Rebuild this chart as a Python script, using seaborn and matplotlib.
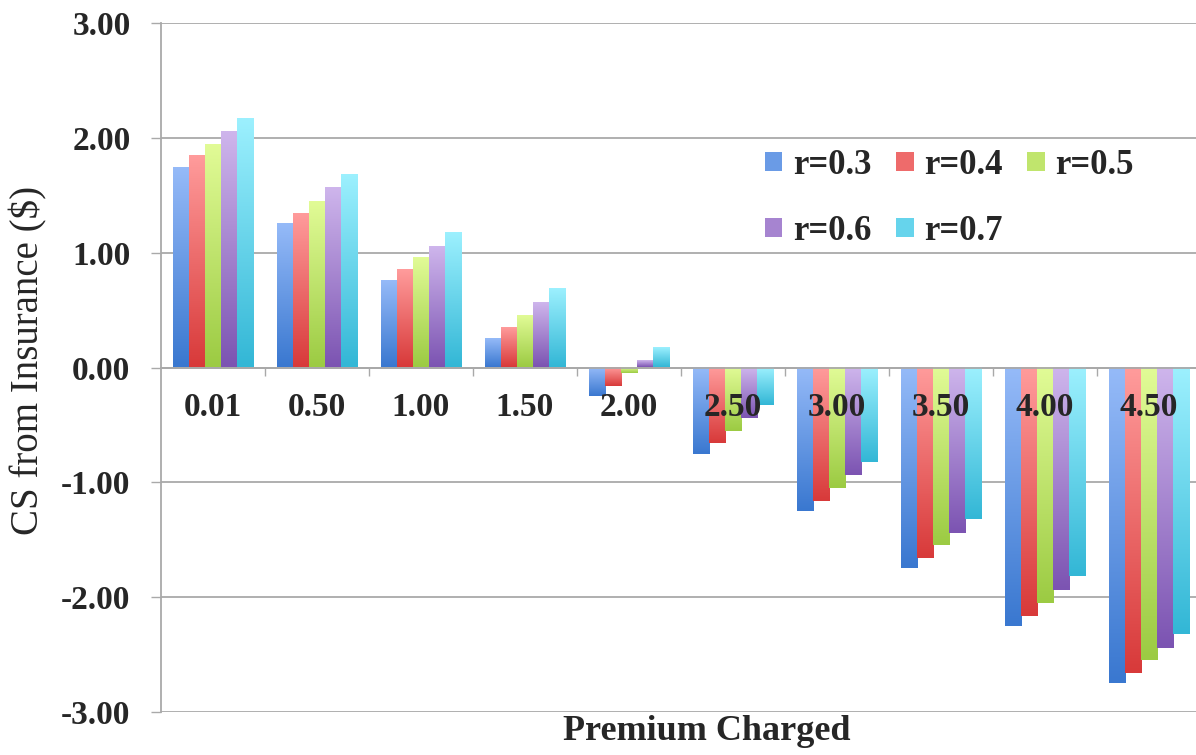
import numpy as np
import pandas as pd
import matplotlib
matplotlib.use("Agg")
import matplotlib.pyplot as plt
from matplotlib.patches import Patch
from matplotlib.colors import to_rgb
import seaborn as sns

premiums = ["0.01", "0.50", "1.00", "1.50", "2.00", "2.50", "3.00", "3.50", "4.00", "4.50"]
r_labels = ["r=0.3", "r=0.4", "r=0.5", "r=0.6", "r=0.7"]

cs_r03 = [1.74, 1.25, 0.75, 0.25, -0.25, -0.75, -1.25, -1.75, -2.25, -2.75]
cs_r04 = [1.84, 1.34, 0.85, 0.34, -0.16, -0.66, -1.16, -1.66, -2.16, -2.66]
cs_r05 = [1.94, 1.44, 0.95, 0.45, -0.05, -0.55, -1.05, -1.55, -2.05, -2.55]
cs_r06 = [2.05, 1.56, 1.05, 0.56, 0.06, -0.44, -0.94, -1.44, -1.94, -2.44]
cs_r07 = [2.16, 1.68, 1.17, 0.68, 0.17, -0.33, -0.82, -1.32, -1.82, -2.32]

series = [cs_r03, cs_r04, cs_r05, cs_r06, cs_r07]

# light (top) and dark (bottom) shades for each series
light = ["#95baf8", "#ff9b9b", "#e1fb96", "#ceb5ec", "#9cf0fe"]
dark = ["#3a78d0", "#d83a3a", "#9ccb43", "#7c54b2", "#33b7d6"]
mid = ["#6a9be6", "#ee6b6b", "#c0e56d", "#a684d0", "#66d4ec"]

rows = []
for lab, vals in zip(r_labels, series):
    for p, v in zip(premiums, vals):
        rows.append({"premium": p, "cs": v, "r": lab})
df = pd.DataFrame(rows)

sns.set_style("white")
plt.rcParams["font.family"] = ["Liberation Serif", "DejaVu Serif"]

fig = plt.figure(figsize=(11.96, 7.55), dpi=100)
ax = fig.add_axes([161 / 1196, 1 - 712 / 755, 1 - 161 / 1196, (712 - 23) / 755])

sns.barplot(data=df, x="premium", y="cs", hue="r", hue_order=r_labels,
            order=premiums, palette=mid, width=0.77, saturation=1,
            edgecolor="none", linewidth=0, ax=ax, legend=False)

# vertical gradient fill for every bar: light at the top, dark at the bottom
n = 64
for i, cont in enumerate(ax.containers):
    top = np.array(to_rgb(light[i]))
    bot = np.array(to_rgb(dark[i]))
    t = np.linspace(0, 1, n)[:, None]
    grad = (bot * (1 - t) + top * t)[:, None, :]
    for bar in cont:
        x, y = bar.get_x(), bar.get_y()
        w, h = bar.get_width(), bar.get_height()
        y0, y1 = min(y, y + h), max(y, y + h)
        ax.imshow(grad, extent=[x, x + w, y0, y1], origin="lower",
                  aspect="auto", zorder=2, interpolation="bilinear")
        bar.set_visible(False)

ax.set_xlim(-0.5, 9.5 - 5 / 104)
ax.set_ylim(-3, 3)
ax.set_yticks([-3, -2, -1, 0, 1, 2, 3])
ax.set_yticklabels([f"{v:.2f}" for v in [-3, -2, -1, 0, 1, 2, 3]],
                   fontweight="bold", fontsize=24)

gray = "#a9a9a9"
ax.set_axisbelow(True)
ax.yaxis.grid(True, color=gray, linewidth=1.3)
ax.xaxis.grid(False)

for s in ["top", "right"]:
    ax.spines[s].set_visible(False)
ax.spines["left"].set_color(gray)
ax.spines["left"].set_linewidth(1.3)
ax.spines["bottom"].set_position(("data", 0))
ax.spines["bottom"].set_color(gray)
ax.spines["bottom"].set_linewidth(1.3)

ax.tick_params(axis="y", which="major", direction="out", length=7.5, width=1.0,
               color=gray, pad=14.5, left=True)
ax.set_xticks(range(len(premiums)))
ax.set_xticklabels(premiums, fontweight="bold", fontsize=24)
ax.tick_params(axis="x", which="major", length=0, pad=18)
ax.set_xticks(np.arange(0.5, len(premiums) - 0.5, 1), minor=True)
ax.tick_params(axis="x", which="minor", direction="out", length=6, width=1.0,
               color=gray, bottom=True)
# category labels sit on top of the negative bars
ax.xaxis.set_zorder(3)

ax.set_ylabel("CS from Insurance ($)", fontsize=28)
ax.yaxis.set_label_coords(-0.128, 0.51)
ax.yaxis.label.set_va("center")
ax.set_xlabel("Premium Charged", fontweight="bold", fontsize=26)
ax.xaxis.set_label_coords(0.5275, -0.028)
ax.xaxis.label.set_va("center")

# legend filled row by row: r=0.3, r=0.4, r=0.5 / r=0.6, r=0.7
order = [0, 3, 1, 4, 2]
handles = [Patch(facecolor=mid[k], edgecolor="none") for k in order]
labels = [r_labels[k] for k in order]
ax.legend(handles, labels, ncol=3, frameon=False,
          prop={"weight": "bold", "size": 25},
          loc="upper left", bbox_to_anchor=(751 / 1196, 1 - 135 / 755),
          bbox_transform=fig.transFigure,
          handlelength=0.5, handleheight=0.5, handletextpad=0.3,
          columnspacing=0.72, labelspacing=0.95, borderaxespad=0)

fig.savefig("out.png", dpi=100)
